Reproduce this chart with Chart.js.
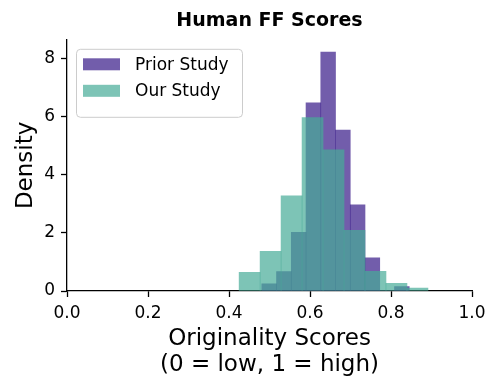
<!DOCTYPE html>
<html><head><meta charset="utf-8">
<script src="https://cdn.jsdelivr.net/npm/chart.js@4.4.0/dist/chart.umd.min.js"></script>
<style>html,body{margin:0;padding:0;background:#fff;}</style>
</head><body>
<canvas id="c" width="499" height="391"></canvas>
<script>
// ---- data ----
const priorBinCenters = [0.4992, 0.5356, 0.5720, 0.6084, 0.6448, 0.6812, 0.7176, 0.7540, 0.7904, 0.8268];
const priorDensity    = [0.25, 0.67, 2.02, 6.48, 8.23, 5.54, 2.97, 1.14, 0, 0.15];
const ourBinCenters   = [0.4509, 0.5027, 0.5545, 0.6063, 0.6581, 0.7099, 0.7617, 0.8135, 0.8653];
const ourDensity      = [0.64, 1.37, 3.28, 5.97, 4.86, 2.09, 0.68, 0.26, 0.10];
const seriesNames = ['Prior Study', 'Our Study'];
const xTickValues = [0, 0.2, 0.4, 0.6, 0.8, 1.0];
const yTickValues = [0, 2, 4, 6, 8];

const FONT = "'DejaVu Sans', sans-serif";
const purple = 'rgba(54,24,135,0.7)';
const teal = 'rgba(70,171,151,0.7)';

const toPts = (xs, ys) => xs.map((x, i) => ({x: x, y: ys[i]}));

const legendPlugin = {
  id: 'boxLegend',
  afterDraw(chart) {
    const ctx = chart.ctx;
    const a = chart.chartArea;
    const x0 = a.left + 9, y0 = a.top + 9, w = 166, h = 68, r = 4;
    ctx.save();
    ctx.fillStyle = 'rgba(255,255,255,0.8)';
    ctx.strokeStyle = '#cccccc';
    ctx.lineWidth = 1;
    ctx.beginPath();
    ctx.roundRect(x0 + 0.5, y0 + 0.5, w, h, r);
    ctx.fill();
    ctx.stroke();
    const items = [
      {label: seriesNames[0], color: purple},
      {label: seriesNames[1], color: teal}
    ];
    ctx.font = '17px ' + FONT;
    ctx.textBaseline = 'middle';
    ctx.textAlign = 'left';
    items.forEach((it, i) => {
      const cy = y0 + 15.5 + i * 26.5;
      ctx.fillStyle = it.color;
      ctx.fillRect(x0 + 7, cy - 6, 37, 12);
      ctx.fillStyle = '#000';
      ctx.fillText(it.label, x0 + 59, cy + 1);
    });
    ctx.restore();
  }
};

new Chart(document.getElementById('c'), {
  type: 'bar',
  data: {
    datasets: [
      {label: seriesNames[1], data: toPts(ourBinCenters, ourDensity), xAxisID: 'x2',
       backgroundColor: teal, borderWidth: 0, barPercentage: 1, categoryPercentage: 1, grouped: false},
      {label: seriesNames[0], data: toPts(priorBinCenters, priorDensity), xAxisID: 'x',
       backgroundColor: purple, borderWidth: 0, barPercentage: 1, categoryPercentage: 1, grouped: false}
    ]
  },
  options: {
    responsive: false,
    devicePixelRatio: 1,
    animation: false,
    layout: {padding: {left: 0, right: 27, top: 0, bottom: 0}},
    plugins: {
      legend: {display: false},
      tooltip: {enabled: false},
      title: {
        display: true, text: 'Human FF Scores', color: '#000', fullSize: false,
        font: {family: FONT, size: 19, weight: 'bold', lineHeight: 1.2},
        padding: {top: 10, bottom: 7}
      }
    },
    scales: {
      x: {
        type: 'linear', position: 'bottom', min: 0, max: 1, offset: false,
        afterBuildTicks: s => { s.ticks = xTickValues.map(v => ({value: v})); },
        afterFit: s => { s.height = 100; },
        ticks: {color: '#000', font: {family: FONT, size: 17}, padding: 6,
                maxRotation: 0, callback: v => Number(v).toFixed(1)},
        grid: {offset: false, drawOnChartArea: false, drawTicks: true, tickLength: 6, tickColor: '#000', tickWidth: 1.3},
        border: {display: true, color: '#000', width: 1.3},
        title: {display: true, text: ['Originality Scores', '(0 = low, 1 = high)'], color: '#000',
                font: {family: FONT, size: 23, lineHeight: 1.13}, padding: {top: 0, bottom: 13}}
      },
      x2: {type: 'linear', display: false, min: 0, max: 1, offset: false, grid: {offset: false}},
      y: {
        type: 'linear', position: 'left', min: 0, max: 8.65,
        afterBuildTicks: s => { s.ticks = yTickValues.map(v => ({value: v})); },
        afterFit: s => { s.width = 67; },
        ticks: {color: '#000', font: {family: FONT, size: 17}, padding: 6, callback: v => String(v)},
        grid: {drawOnChartArea: false, drawTicks: true, tickLength: 6, tickColor: '#000', tickWidth: 1.3},
        border: {display: true, color: '#000', width: 1.3},
        title: {display: true, text: 'Density', color: '#000',
                font: {family: FONT, size: 23}, padding: {top: 12, bottom: 0}}
      }
    }
  },
  plugins: [legendPlugin]
});
</script>
</body></html>
